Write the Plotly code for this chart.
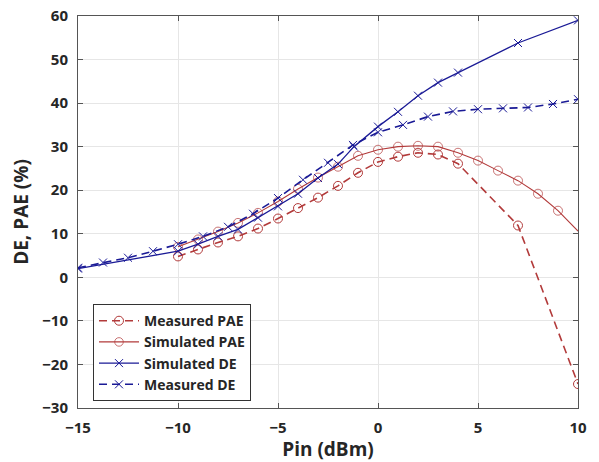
import plotly.graph_objects as go

# ---- data ----
sim_de_x = [-15, -10, -9, -8, -7, -6, -5, -4, -3, -2, -1.2, 0, 1, 2, 3, 4, 7, 10]
sim_de_y = [2.0, 6.0, 7.6, 9.4, 11.0, 13.7, 16.3, 19.2, 22.8, 26.0, 30.0, 34.6, 38.0, 41.7, 44.7, 47.0, 53.8, 59.0]

meas_de_x = [-15, -13.75, -12.5, -11.25, -10, -8.75, -7.5, -6.25, -5, -3.75, -2.5, -1.25, 0,
             1.25, 2.5, 3.75, 5, 6.25, 7.5, 8.75, 10]
meas_de_y = [2.2, 3.4, 4.5, 6.0, 7.6, 9.4, 11.6, 14.6, 18.2, 22.4, 26.3, 30.4, 33.3,
             35.0, 36.9, 38.1, 38.6, 38.8, 39.0, 39.8, 40.9]

sim_pae_x = [-10, -9, -8, -7, -6, -5, -4, -3, -2, -1, 0, 1, 2, 3, 4, 5, 6, 7, 8, 9, 10]
sim_pae_y = [7.0, 8.7, 10.5, 12.5, 14.8, 17.4, 20.3, 22.9, 25.4, 27.9, 29.3, 30.0, 30.2, 30.0,
             28.6, 26.8, 24.5, 22.2, 19.2, 15.3, 10.6]

meas_pae_x = [-10, -9, -8, -7, -6, -5, -4, -3, -2, -1, 0, 1, 2, 3, 4, 7, 10]
meas_pae_y = [4.8, 6.4, 8.0, 9.4, 11.2, 13.5, 15.9, 18.3, 21.0, 24.0, 26.5, 27.7, 28.6, 28.2, 26.1, 11.9, -24.5]

x_ticks = [-15, -10, -5, 0, 5, 10]
y_ticks = [-30, -20, -10, 0, 10, 20, 30, 40, 50, 60]

RED = "#B23A3A"
BLUE = "#1A1A96"
FONT = "Open Sans"
TXT = "#262626"

fig = go.Figure()

sim_pae_sizes = [9] * (len(sim_pae_x) - 1) + [0]

fig.add_trace(go.Scatter(
    x=meas_pae_x, y=meas_pae_y, name="Measured PAE", mode="lines+markers",
    line=dict(color=RED, width=1.6, dash="8px,5px"),
    marker=dict(symbol="circle-open", size=9, color=RED, line=dict(width=1))))
fig.add_trace(go.Scatter(
    x=sim_pae_x, y=sim_pae_y, name="Simulated PAE", mode="lines+markers",
    line=dict(color=RED, width=1.1),
    marker=dict(symbol="circle-open", size=sim_pae_sizes, color=RED, line=dict(width=1))))
fig.add_trace(go.Scatter(
    x=sim_de_x, y=sim_de_y, name="Simulated DE", mode="lines+markers",
    line=dict(color=BLUE, width=1.3),
    marker=dict(symbol="x-thin-open", size=8, color=BLUE, line=dict(width=1, color=BLUE))))
fig.add_trace(go.Scatter(
    x=meas_de_x, y=meas_de_y, name="Measured DE", mode="lines+markers",
    line=dict(color=BLUE, width=1.6, dash="8px,5px"),
    marker=dict(symbol="x-thin-open", size=8, color=BLUE, line=dict(width=1, color=BLUE))))

axis_common = dict(
    showgrid=True, gridcolor="#E6E6E6", gridwidth=1,
    showline=True, linecolor="#555555", linewidth=1, mirror="ticks",
    ticks="inside", ticklen=5, tickcolor="#555555",
    zeroline=False, automargin=False,
    tickfont=dict(family=FONT, size=15, color=TXT, weight="bold"),
)

fig.update_layout(
    width=599, height=462,
    margin=dict(l=78, r=21, t=16, b=54, autoexpand=False),
    paper_bgcolor="white", plot_bgcolor="white",
    font=dict(family=FONT, color=TXT),
    showlegend=True,
    legend=dict(
        x=0.03, y=0.265, xanchor="left", yanchor="top",
        bgcolor="white", bordercolor="#333333", borderwidth=1,
        font=dict(family=FONT, size=14, color=TXT, weight="bold"),
        tracegroupgap=0, itemwidth=40,
    ),
    xaxis=dict(
        range=[-15, 10], tickvals=x_ticks, ticklabelstandoff=6,
        title=dict(text="Pin (dBm)", font=dict(family=FONT, size=19, color=TXT, weight="bold"), standoff=2),
        **axis_common),
    yaxis=dict(
        range=[-30, 60], tickvals=y_ticks, ticklabelstandoff=6,
        title=dict(text="DE, PAE (%)", font=dict(family=FONT, size=19, color=TXT, weight="bold"), standoff=8),
        **axis_common),
)

fig.write_html(
    "out.html",
    config={"displayModeBar": False},
    post_script="document.body.style.margin='0px';document.body.style.overflow='hidden';",
)
